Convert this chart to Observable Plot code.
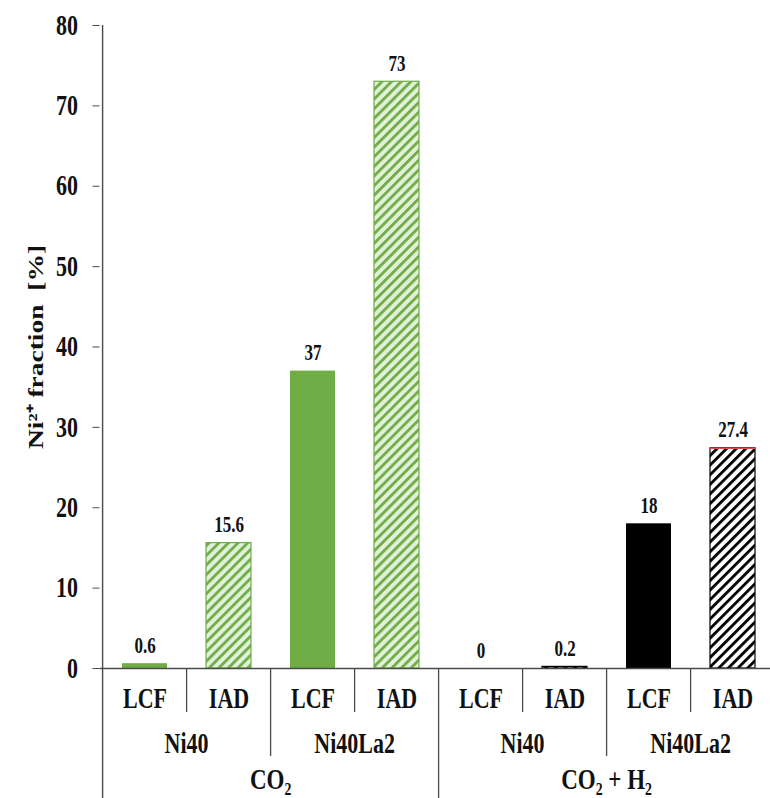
<!DOCTYPE html>
<html>
<head>
<meta charset="utf-8">
<script src="https://cdn.jsdelivr.net/npm/d3@7"></script>
<script src="https://cdn.jsdelivr.net/npm/@observablehq/plot@0.6"></script>
<style>
  body { margin: 0; background: #fff; }
  svg { display: block; }
</style>
</head>
<body>
<div id="chart"></div>
<script>
// ---- data ----
const conditions = ["CO₂", "CO₂", "CO₂", "CO₂", "CO₂ + H₂", "CO₂ + H₂", "CO₂ + H₂", "CO₂ + H₂"];
const samples    = ["Ni40", "Ni40", "Ni40La2", "Ni40La2", "Ni40", "Ni40", "Ni40La2", "Ni40La2"];
const methods    = ["LCF", "IAD", "LCF", "IAD", "LCF", "IAD", "LCF", "IAD"];
const fractions  = [0.6, 15.6, 37, 73, 0, 0.2, 18, 27.4];
const redCap     = [false, false, false, false, false, false, false, true];
const yTicks     = [0, 10, 20, 30, 40, 50, 60, 70, 80];
const yTitle     = "Ni²⁺ fraction  [%]";

// ---- layout / style ----
const W = 770, H = 798;
const LEFT = 99.5, RIGHT = 778, TOP = 25, BASE = 668;
const STEP = (RIGHT - LEFT) / methods.length;
const SERIF = "'Liberation Serif', 'Times New Roman', serif";
const GREEN = "#70AD47";
const AXIS = "#4a4a4a";
const STRETCH = 1.3;   // tall, narrow lettering of the original

const rows = methods.map((m, i) => ({
  i,
  key: `${conditions[i]}|${samples[i]}|${m}`,
  condition: conditions[i],
  sample: samples[i],
  method: m,
  value: fractions[i],
  cap: redCap[i],
  green: conditions[i] === conditions[0],
  hatched: m === "IAD"
}));
const keys = rows.map(d => d.key);

const sepMethod    = rows.filter(d => d.i > 0 && d.condition === rows[d.i - 1].condition && d.sample === rows[d.i - 1].sample);
const sepSample    = rows.filter(d => d.i > 0 && d.condition === rows[d.i - 1].condition && d.sample !== rows[d.i - 1].sample);
const sepCondition = rows.filter(d => d.i > 0 && d.condition !== rows[d.i - 1].condition);
const sampleGroups = rows.filter(d => d.i % 2 === 1);
const condGroups   = rows.filter(d => d.i % 4 === 2);

const labelFont = {fontFamily: SERIF, fontWeight: "bold", fill: "#111"};

const plot = Plot.plot({
  width: W,
  height: H,
  marginTop: TOP,
  marginBottom: H - BASE,
  marginLeft: LEFT,
  marginRight: 0,
  style: {fontFamily: SERIF, fontWeight: "bold", fontSize: "22px", color: "#111", background: "#fff"},
  x: {type: "band", domain: keys, range: [LEFT, RIGHT], paddingInner: 0.463, paddingOuter: 0.2315, axis: null},
  y: {domain: [0, 80], ticks: yTicks, axis: null},
  marks: [
    // bars
    Plot.barY(rows, {filter: d => d.green && !d.hatched, x: "key", y: "value", fill: GREEN}),
    Plot.barY(rows, {filter: d => d.green && d.hatched, x: "key", y: "value", fill: "url(#hatchGreen)", stroke: GREEN, strokeWidth: 1.2}),
    Plot.barY(rows, {filter: d => !d.green && !d.hatched, x: "key", y: "value", fill: "#000"}),
    Plot.barY(rows, {filter: d => !d.green && d.hatched, x: "key", y: "value", fill: "url(#hatchBlack)", stroke: "#000", strokeWidth: 1.2}),
    Plot.tickY(rows, {filter: d => d.cap, x: "key", y: "value", stroke: "#e05050", strokeWidth: 1.6}),
    // value labels
    Plot.text(rows, {x: "key", y: "value", text: d => String(d.value), lineAnchor: "bottom", dy: -11, fontSize: 17, ...labelFont}),
    // axes lines
    Plot.ruleY([0], {stroke: AXIS, strokeWidth: 1.4}),
    Plot.ruleX(rows.slice(0, 1), {x: "key", dx: -STEP / 2, insetBottom: -(H - BASE), stroke: AXIS, strokeWidth: 1.4}),
    Plot.axisY({ticks: yTicks, tickSize: 7, tickPadding: 15, label: null, stroke: AXIS, fontSize: 22, fontFamily: SERIF, fontWeight: "bold", fill: "#111"}),
    Plot.text([yTitle], {frameAnchor: "left", textAnchor: "middle", lineAnchor: "middle", dx: -64, rotate: -90, fontSize: 22, ...labelFont}),
    // category axis separators
    Plot.ruleX(sepMethod, {x: "key", dx: -STEP / 2, insetTop: BASE - TOP, insetBottom: -44, stroke: AXIS, strokeWidth: 1.3}),
    Plot.ruleX(sepSample, {x: "key", dx: -STEP / 2, insetTop: BASE - TOP, insetBottom: -88, stroke: AXIS, strokeWidth: 1.3}),
    Plot.ruleX(sepCondition, {x: "key", dx: -STEP / 2, insetTop: BASE - TOP, insetBottom: -(H - BASE), stroke: AXIS, strokeWidth: 1.3}),
    // category labels
    Plot.text(rows, {x: "key", text: "method", frameAnchor: "bottom", lineAnchor: "middle", dy: 30, fontSize: 22, ...labelFont}),
    Plot.text(sampleGroups, {x: "key", text: "sample", frameAnchor: "bottom", lineAnchor: "middle", dx: -STEP / 2, dy: 75, fontSize: 22, ...labelFont}),
    Plot.text(condGroups, {x: "key", text: "condition", frameAnchor: "bottom", lineAnchor: "middle", dx: -STEP / 2, dy: 111, fontSize: 23, ...labelFont})
  ]
});

// stretch lettering vertically (rotated title: along its own length)
d3.select(plot).selectAll("text").each(function () {
  const t = this.getAttribute("transform") || "";
  const s = /rotate/.test(t) ? `scale(${STRETCH - 0.05},1)` : `scale(1,${STRETCH})`;
  this.setAttribute("transform", `${t} ${s}`.trim());
});

// hatch patterns
const defs = d3.select(plot).insert("defs", ":first-child");
function hatch(id, bg, fg) {
  const p = defs.append("pattern")
    .attr("id", id)
    .attr("patternUnits", "userSpaceOnUse")
    .attr("width", 6.8).attr("height", 6.8)
    .attr("patternTransform", "rotate(45)");
  p.append("rect").attr("width", 6.8).attr("height", 6.8).attr("fill", bg);
  p.append("rect").attr("width", 2.8).attr("height", 6.8).attr("fill", fg);
}
hatch("hatchGreen", "#E2F0D9", GREEN);
hatch("hatchBlack", "#ffffff", "#000");

document.getElementById("chart").appendChild(plot);
</script>
</body>
</html>
